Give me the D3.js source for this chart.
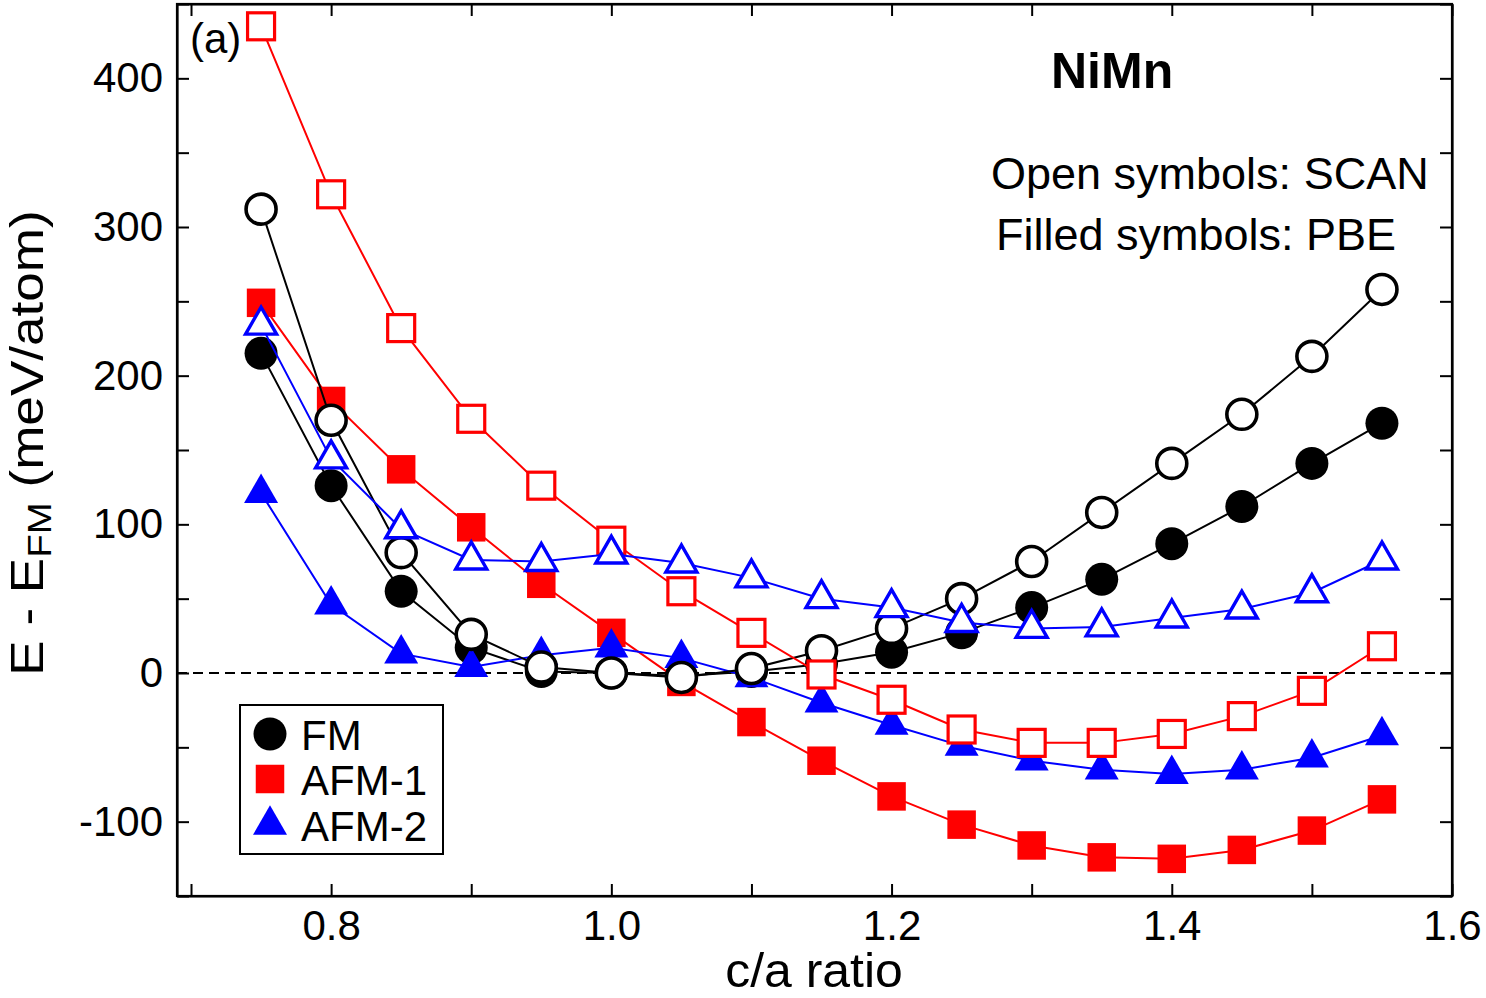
<!DOCTYPE html>
<html>
<head>
<meta charset="utf-8">
<script src="https://cdn.jsdelivr.net/npm/d3@7"></script>
<style>
  html, body { margin: 0; padding: 0; background: #fff; }
  svg { display: block; font-family: "Liberation Sans", Arial, Helvetica, sans-serif; }
</style>
</head>
<body>
<svg id="chart" width="1486" height="998"></svg>
<script>
// ---- data ----
const cOverA = [0.75, 0.80, 0.85, 0.90, 0.95, 1.00, 1.05, 1.10, 1.15, 1.20, 1.25, 1.30, 1.35, 1.40, 1.45, 1.50, 1.55];
const fmPBE    = [215, 126, 55, 17, 1, 0, -2, 1, 6, 14, 27, 44, 63, 87, 112, 141, 168];
const afm1PBE  = [249, 183, 137, 98, 60, 27, -6, -33, -59, -83, -102, -116, -124, -125, -119, -106, -85];
const afm2PBE  = [121, 46, 13, 4, 12, 17, 10, -3, -20, -35, -49, -59, -65, -68, -65, -57, -42];
const fmSCAN   = [312, 170, 81, 26, 4, 0, -3, 3, 15, 30, 50, 75, 108, 141, 174, 213, 258];
const afm1SCAN = [435, 322, 232, 171, 126, 89, 55, 27, -1, -18, -38, -47, -47, -41, -29, -12, 18];
const afm2SCAN = [234, 144, 97, 76, 75, 80, 74, 64, 50, 44, 34, 30, 31, 37, 43, 54, 76];
const xTicks = [0.7, 0.8, 0.9, 1.0, 1.1, 1.2, 1.3, 1.4, 1.5, 1.6];
const xLabelTicks = [0.8, 1.0, 1.2, 1.4, 1.6];
const yTicks = [-150, -100, -50, 0, 50, 100, 150, 200, 250, 300, 350, 400, 450];
const yLabelTicks = [-100, 0, 100, 200, 300, 400];
const legendNames = ["FM", "AFM-1", "AFM-2"];

const svg = d3.select("#chart");
const L = 177, R = 1452, T = 4, B = 896;
const x = d3.scaleLinear().domain([0.69, 1.6]).range([L, R]);
const y = d3.scaleLinear().domain([-150, 450]).range([B, T]);

const isLabelX = v => xLabelTicks.some(t => Math.abs(t - v) < 1e-6);
const isLabelY = v => yLabelTicks.some(t => Math.abs(t - v) < 1e-6);

// zero dashed line
svg.append("line")
  .attr("x1", x(0.69)).attr("x2", x(1.6))
  .attr("y1", y(0)).attr("y2", y(0))
  .attr("stroke", "#000").attr("stroke-width", 2)
  .attr("stroke-dasharray", "10,6");

// symbol paths
function triPath(w, h) {
  return `M0,${-2*h/3}L${-w/2},${h/3}L${w/2},${h/3}Z`;
}
function drawSeries(vals, color, shape, open) {
  const g = svg.append("g");
  const pts = cOverA.map((c, i) => [x(c), y(vals[i])]);
  g.append("path")
    .attr("d", d3.line()(pts))
    .attr("fill", "none").attr("stroke", color).attr("stroke-width", 2);
  const sym = g.selectAll("g.sym").data(pts).enter().append("g")
    .attr("transform", d => `translate(${d[0]},${d[1]})`);
  addSymbol(sym, color, shape, open);
}
function addSymbol(sel, color, shape, open) {
  if (shape === "circle") {
    sel.append("circle")
      .attr("r", open ? 15 : 16.5)
      .attr("fill", open ? "#fff" : color)
      .attr("stroke", open ? color : "none")
      .attr("stroke-width", open ? 3.6 : 0);
  } else if (shape === "square") {
    const s = open ? 27 : 28.5;
    sel.append("rect")
      .attr("x", -s/2).attr("y", -s/2).attr("width", s).attr("height", s)
      .attr("fill", open ? "#fff" : color)
      .attr("stroke", open ? color : "none")
      .attr("stroke-width", open ? 3.2 : 0);
  } else {
    sel.append("path")
      .attr("d", open ? triPath(31, 27) : triPath(34, 29.5))
      .attr("fill", open ? "#fff" : color)
      .attr("stroke", open ? color : "none")
      .attr("stroke-width", open ? 3.4 : 0)
      .attr("stroke-linejoin", "miter");
  }
}

drawSeries(fmPBE, "#000", "circle", false);
drawSeries(afm1PBE, "#ff0000", "square", false);
drawSeries(afm2PBE, "#0000ff", "triangle", false);
drawSeries(fmSCAN, "#000", "circle", true);
drawSeries(afm1SCAN, "#ff0000", "square", true);
drawSeries(afm2SCAN, "#0000ff", "triangle", true);

// axes
const fs = 42;
const xb = svg.append("g").attr("transform", `translate(0,${B})`)
  .call(d3.axisBottom(x).tickValues(xTicks).tickSizeInner(-12).tickSizeOuter(0).tickPadding(14)
    .tickFormat(v => isLabelX(v) ? d3.format(".1f")(v) : ""));
const xt = svg.append("g").attr("transform", `translate(0,${T})`)
  .call(d3.axisTop(x).tickValues(xTicks).tickSizeInner(-12).tickSizeOuter(0).tickFormat(""));
const yl = svg.append("g").attr("transform", `translate(${L},0)`)
  .call(d3.axisLeft(y).tickValues(yTicks).tickSizeInner(-12).tickSizeOuter(0).tickPadding(14)
    .tickFormat(v => isLabelY(v) ? String(v) : ""));
const yr = svg.append("g").attr("transform", `translate(${R},0)`)
  .call(d3.axisRight(y).tickValues(yTicks).tickSizeInner(-12).tickSizeOuter(0).tickFormat(""));
[xb, xt, yl, yr].forEach(a => {
  a.selectAll("path.domain").attr("stroke", "#000").attr("stroke-width", 2.2);
  a.selectAll(".tick line").attr("stroke", "#000").attr("stroke-width", 2);
  a.selectAll("text").attr("font-size", fs).attr("fill", "#000")
    .attr("font-family", "'Liberation Sans', Arial, Helvetica, sans-serif");
});
// frame rect to close corners
svg.append("rect").attr("x", L).attr("y", T).attr("width", R - L).attr("height", B - T)
  .attr("fill", "none").attr("stroke", "#000").attr("stroke-width", 2.2);

// axis titles
svg.append("text").attr("x", 814).attr("y", 987).attr("text-anchor", "middle")
  .attr("font-size", 48).attr("transform", "translate(814,0) scale(1.04,1) translate(-814,0)")
  .text("c/a ratio");
const yt = svg.append("text").attr("transform", "translate(43,443) rotate(-90) scale(1.13,1)")
  .attr("text-anchor", "middle").attr("font-size", 47);
yt.append("tspan").text("E - E");
yt.append("tspan").attr("font-size", 34).attr("dy", 8).text("FM");
yt.append("tspan").attr("dy", -8).text(" (meV/atom)");

// annotations
svg.append("text").attr("x", 190).attr("y", 53).attr("font-size", 42).text("(a)");
svg.append("text").attr("x", 1051).attr("y", 88).attr("font-size", 50).attr("font-weight", "bold").text("NiMn");
svg.append("text").attr("x", 991).attr("y", 189).attr("font-size", 45).text("Open symbols: SCAN");
svg.append("text").attr("x", 996).attr("y", 250).attr("font-size", 45).text("Filled symbols: PBE");

// legend
const lg = svg.append("g");
lg.append("rect").attr("x", 240).attr("y", 705).attr("width", 203).attr("height", 149)
  .attr("fill", "#fff").attr("stroke", "#000").attr("stroke-width", 2);
const legendShapes = [["#000", "circle", 734], ["#ff0000", "square", 779], ["#0000ff", "triangle", 825]];
legendShapes.forEach((d, i) => {
  const s = lg.append("g").attr("transform", `translate(270,${d[2]})`);
  addSymbol(s, d[0], d[1], false);
  lg.append("text").attr("x", 301).attr("y", [750, 795, 841][i]).attr("font-size", 42).text(legendNames[i]);
});
</script>
</body>
</html>
